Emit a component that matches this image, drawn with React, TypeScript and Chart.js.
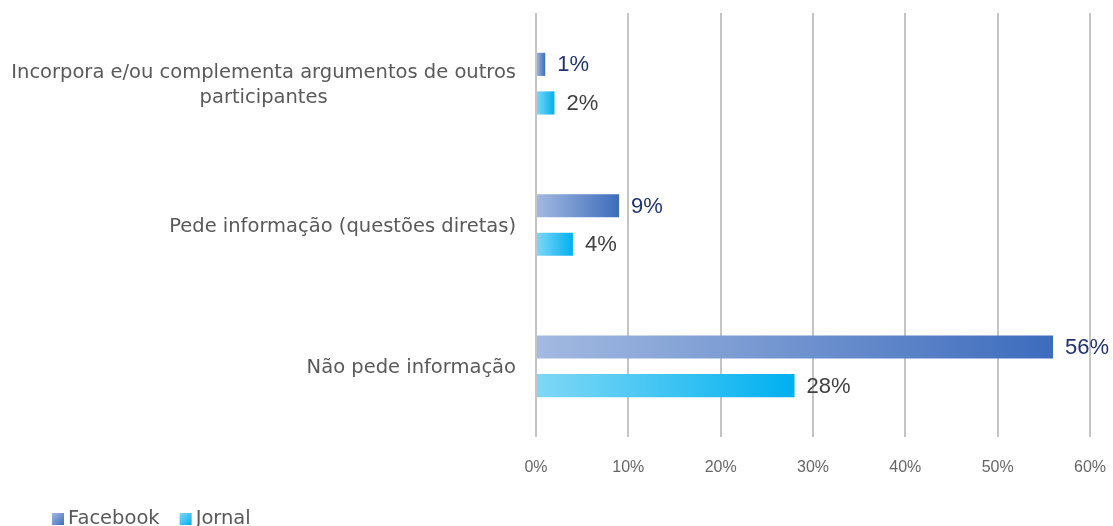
import React, { useEffect, useRef } from "react";
import { Chart, registerables } from "chart.js";

Chart.register(...registerables);

const categories: string[][] = [
  ["Incorpora e/ou complementa argumentos de outros", "participantes"],
  ["Pede informação (questões diretas)"],
  ["Não pede informação"],
];
const seriesNames = ["Facebook", "Jornal"];
const facebookValues = [1, 9, 56];
const jornalValues = [2, 4, 28];
const xTicks = [0, 10, 20, 30, 40, 50, 60];

const gradStops = [
  ["#a3bae1", "#3d6cbd"],
  ["#80d8f6", "#00b0f0"],
];
const labelColors = ["#1f3370", "#404040"];

export default function App() {
  const ref = useRef<HTMLCanvasElement | null>(null);

  useEffect(() => {
    const canvas = ref.current;
    if (!canvas) return;

    const makeBg = (di: number) => (ctx: any) => {
      const [c0, c1] = gradStops[di];
      if (ctx.type !== "data") return c1;
      const chart = ctx.chart;
      const xs = chart.scales && chart.scales.x;
      if (!xs || !chart.chartArea) return c1;
      const x0 = xs.getPixelForValue(0);
      const x1 = xs.getPixelForValue(ctx.raw as number);
      if (!isFinite(x0) || !isFinite(x1) || x1 - x0 < 1) return c1;
      const g = chart.ctx.createLinearGradient(x0, 0, x1, 0);
      g.addColorStop(0, c0);
      g.addColorStop(1, c1);
      return g;
    };

    const overlay = {
      id: "overlay",
      afterDatasetsDraw(chart: any) {
        const c = chart.ctx;
        c.save();
        c.font = '22px "Liberation Sans", Arial, sans-serif';
        c.textBaseline = "middle";
        c.textAlign = "left";
        chart.data.datasets.forEach((ds: any, di: number) => {
          const meta = chart.getDatasetMeta(di);
          meta.data.forEach((bar: any, i: number) => {
            c.fillStyle = labelColors[di];
            c.fillText(ds.data[i] + "%", bar.x + 12, bar.y + 1);
          });
        });
        c.restore();
      },
      afterDraw(chart: any) {
        const c = chart.ctx;
        const ys = chart.scales.y;
        c.save();
        c.font = '19.5px "DejaVu Sans", Verdana, sans-serif';
        c.fillStyle = "#595959";
        c.textBaseline = "middle";
        c.textAlign = "center";
        const right = chart.chartArea.left - 20;
        const lh = 25;
        categories.forEach((lines, i) => {
          const cy = ys.getPixelForValue(i) + 2;
          const maxW = Math.max(...lines.map((l) => c.measureText(l).width));
          const cx = right - maxW / 2;
          const startY = cy - ((lines.length - 1) * lh) / 2;
          lines.forEach((l, k) => c.fillText(l, cx, startY + k * lh));
        });

        // legend
        c.textAlign = "left";
        c.font = '19.5px "DejaVu Sans", Verdana, sans-serif';
        let x = 52;
        const ly = 519;
        seriesNames.forEach((name, di) => {
          const g = c.createLinearGradient(x, ly - 6, x + 12, ly + 6);
          g.addColorStop(0, gradStops[di][0]);
          g.addColorStop(1, gradStops[di][1]);
          c.fillStyle = g;
          c.fillRect(x, ly - 6, 12, 12);
          c.fillStyle = "#595959";
          c.fillText(name, x + 16, ly);
          x += 16 + c.measureText(name).width + 20;
        });
        c.restore();
      },
    };

    const chart = new Chart(canvas, {
      type: "bar",
      data: {
        labels: categories.map((l) => l.join(" ")),
        datasets: [
          {
            label: seriesNames[0],
            data: facebookValues,
            backgroundColor: makeBg(0) as any,
            categoryPercentage: 0.546,
            barPercentage: 0.6,
          },
          {
            label: seriesNames[1],
            data: jornalValues,
            backgroundColor: makeBg(1) as any,
            categoryPercentage: 0.546,
            barPercentage: 0.6,
          },
        ],
      },
      options: {
        indexAxis: "y",
        animation: false,
        responsive: false,
        maintainAspectRatio: false,
        layout: { padding: { left: 536, top: 13, right: 23, bottom: 0 } },
        plugins: {
          legend: { display: false },
          tooltip: { enabled: false },
        },
        scales: {
          x: {
            min: 0,
            max: 60,
            afterFit: (s: any) => {
              s.height = 89;
              s.paddingLeft = 0;
              s.paddingRight = 0;
            },
            afterBuildTicks: (s: any) => {
              s.ticks = xTicks.map((v) => ({ value: v }));
            },
            ticks: {
              padding: 21,
              color: "#666666",
              font: { family: '"Liberation Sans", Arial, sans-serif', size: 16 },
              callback: (v: any) => v + "%",
              maxRotation: 0,
            },
            grid: {
              color: "#c4c4c4",
              lineWidth: 2,
              drawTicks: false,
            },
            border: { display: false },
          },
          y: {
            afterFit: (s: any) => {
              s.width = 0;
              s.paddingTop = 0;
              s.paddingBottom = 0;
            },
            ticks: { display: false },
            grid: { display: false, drawTicks: false },
            border: { display: false },
          },
        },
      },
      plugins: [overlay],
    });

    return () => chart.destroy();
  }, []);

  return (
    <div style={{ position: "fixed", left: 0, top: 0, width: 1113, height: 526, background: "#fff" }}>
      <canvas ref={ref} width={1113} height={526} style={{ display: "block" }} />
    </div>
  );
}
